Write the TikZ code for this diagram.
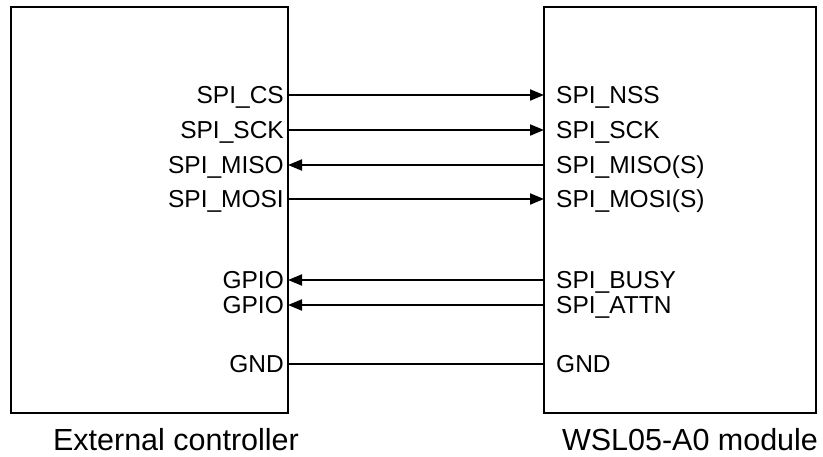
\documentclass[tikz,border=0pt]{standalone}
\usepackage{fontspec}
\setmainfont{Liberation Sans}
\usetikzlibrary{arrows.meta}

\begin{document}
\begin{tikzpicture}[x=1pt, y=-1pt,
    chip/.style={draw, line width=2.8pt, inner sep=0pt},
    pinl/.style={anchor=east, inner xsep=4pt, inner ysep=0pt, text height=17pt, text depth=0pt, font=\fontsize{24.5}{28}\selectfont},
    pinr/.style={anchor=west, inner xsep=12pt, inner ysep=0pt, text height=17pt, text depth=0pt, font=\fontsize{24.5}{28}\selectfont},
    wire/.style={line width=2pt},
    sig/.style={wire, -{Triangle[length=14pt, width=11pt]}},
    caption/.style={font=\fontsize{30.5}{34}\selectfont}]
  \useasboundingbox (0,0) rectangle (823,456);
  \node[chip, minimum width=277pt, minimum height=406pt] (ctrl) at (149.5,210) {};
  \node[chip, minimum width=272pt, minimum height=406pt] (mod) at (680,210) {};
  % controller side
  \node[pinl] (lcs) at (288,95) {SPI\_CS};
  \node[pinl] (lsck) at (288,130) {SPI\_SCK};
  \node[pinl] (lmiso) at (288,165) {SPI\_MISO};
  \node[pinl] (lmosi) at (288,199) {SPI\_MOSI};
  \node[pinl] (lgpa) at (288,280) {GPIO};
  \node[pinl] (lgpb) at (288,305) {GPIO};
  \node[pinl] (lgnd) at (288,364) {GND};
  % module side
  \node[pinr] (rnss) at (544,95) {SPI\_NSS};
  \node[pinr] (rsck) at (544,130) {SPI\_SCK};
  \node[pinr] (rmiso) at (544,165) {SPI\_MISO(S)};
  \node[pinr] (rmosi) at (544,199) {SPI\_MOSI(S)};
  \node[pinr] (rbusy) at (544,280) {SPI\_BUSY};
  \node[pinr] (rattn) at (544,305) {SPI\_ATTN};
  \node[pinr] (rgnd) at (544,364) {GND};
  % wires
  \draw[sig] (lcs.east) -- (rnss.west);
  \draw[sig] (lsck.east) -- (rsck.west);
  \draw[sig] (rmiso.west) -- (lmiso.east);
  \draw[sig] (lmosi.east) -- (rmosi.west);
  \draw[sig] (rbusy.west) -- (lgpa.east);
  \draw[sig] (rattn.west) -- (lgpb.east);
  \draw[wire] (lgnd.east) -- (rgnd.west);
  \node[caption] (capl) at (176,440) {External controller};
  \node[caption] (capr) at (690,440) {WSL05-A0 module};
\end{tikzpicture}
\end{document}
